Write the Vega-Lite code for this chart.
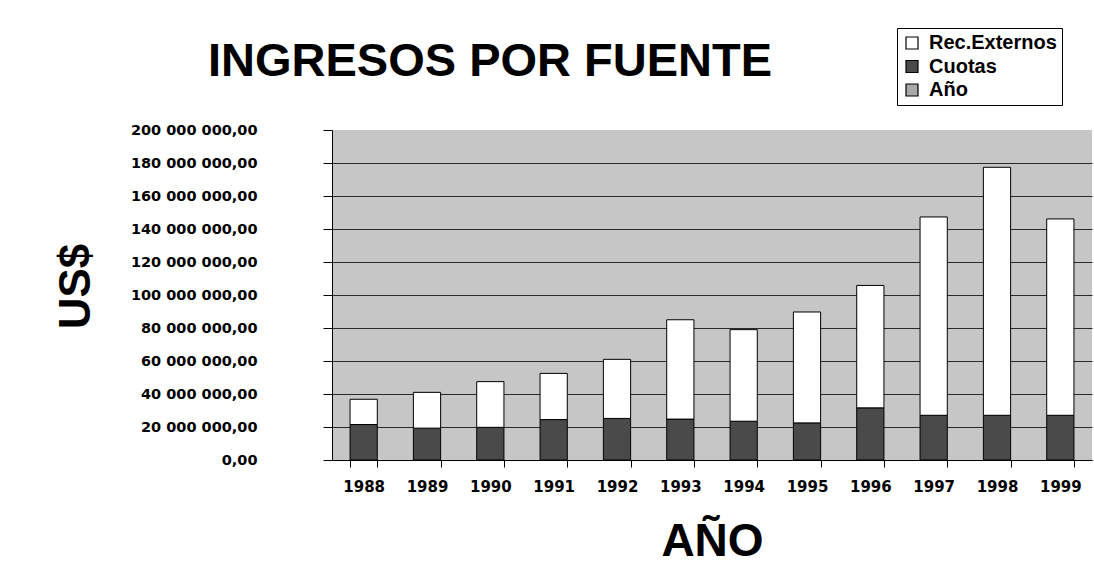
{
  "$schema": "https://vega.github.io/schema/vega-lite/v6.json",
  "width": 760,
  "height": 330,
  "autosize": {"type": "none"},
  "padding": {"left": 332, "top": 130, "right": 2, "bottom": 125},
  "background": "white",
  "title": {
    "text": "INGRESOS POR FUENTE",
    "font": "Liberation Sans",
    "fontSize": 47,
    "fontWeight": "bold",
    "color": "black",
    "anchor": "middle",
    "frame": "group",
    "dx": -222,
    "dy": 110,
    "offset": 52
  },
  "data": {
    "values": [
      {"anio": "1988", "fuente": "Cuotas", "monto": 21500000},
      {"anio": "1988", "fuente": "Rec.Externos", "monto": 15300000},
      {"anio": "1989", "fuente": "Cuotas", "monto": 19300000},
      {"anio": "1989", "fuente": "Rec.Externos", "monto": 21700000},
      {"anio": "1990", "fuente": "Cuotas", "monto": 19800000},
      {"anio": "1990", "fuente": "Rec.Externos", "monto": 27700000},
      {"anio": "1991", "fuente": "Cuotas", "monto": 24500000},
      {"anio": "1991", "fuente": "Rec.Externos", "monto": 28000000},
      {"anio": "1992", "fuente": "Cuotas", "monto": 25200000},
      {"anio": "1992", "fuente": "Rec.Externos", "monto": 35800000},
      {"anio": "1993", "fuente": "Cuotas", "monto": 24800000},
      {"anio": "1993", "fuente": "Rec.Externos", "monto": 60200000},
      {"anio": "1994", "fuente": "Cuotas", "monto": 23500000},
      {"anio": "1994", "fuente": "Rec.Externos", "monto": 55500000},
      {"anio": "1995", "fuente": "Cuotas", "monto": 22500000},
      {"anio": "1995", "fuente": "Rec.Externos", "monto": 67200000},
      {"anio": "1996", "fuente": "Cuotas", "monto": 31600000},
      {"anio": "1996", "fuente": "Rec.Externos", "monto": 74200000},
      {"anio": "1997", "fuente": "Cuotas", "monto": 27100000},
      {"anio": "1997", "fuente": "Rec.Externos", "monto": 120200000},
      {"anio": "1998", "fuente": "Cuotas", "monto": 27100000},
      {"anio": "1998", "fuente": "Rec.Externos", "monto": 150300000},
      {"anio": "1999", "fuente": "Cuotas", "monto": 27100000},
      {"anio": "1999", "fuente": "Rec.Externos", "monto": 119000000}
    ]
  },
  "mark": {"type": "bar", "stroke": "black", "strokeWidth": 1},
  "encoding": {
    "x": {
      "field": "anio",
      "type": "ordinal",
      "scale": {"paddingInner": 0.57, "paddingOuter": 0.285},
      "axis": {
        "title": "AÑO",
        "titleFont": "Liberation Sans",
        "titleFontSize": 46,
        "titleFontWeight": "bold",
        "titleColor": "black",
        "titleBaseline": "middle",
        "titleY": 81,
        "labelAngle": 0,
        "labelFont": "DejaVu Sans",
        "labelFontSize": 15,
        "labelFontWeight": "bold",
        "labelColor": "black",
        "labelPadding": 12,
        "labelBaseline": "top",
        "tickBand": "extent",
        "tickSize": 7,
        "tickColor": "black",
        "domainColor": "black",
        "grid": false
      }
    },
    "y": {
      "field": "monto",
      "type": "quantitative",
      "stack": "zero",
      "scale": {"domain": [0, 200000000], "nice": false},
      "axis": {
        "title": "US$",
        "titleFont": "Liberation Sans",
        "titleFontSize": 44,
        "titleFontWeight": "bold",
        "titleColor": "black",
        "titleAngle": 270,
        "titleBaseline": "middle",
        "titleAlign": "center",
        "titleX": -256,
        "titleY": 156,
        "values": [0, 20000000, 40000000, 60000000, 80000000, 100000000, 120000000, 140000000, 160000000, 180000000, 200000000],
        "format": ",.2f",
        "labelFont": "DejaVu Sans",
        "labelFontSize": 14.5,
        "labelFontWeight": "bold",
        "labelColor": "black",
        "labelPadding": 66,
        "tickSize": 9,
        "tickColor": "black",
        "domainColor": "black",
        "grid": true,
        "gridColor": {"condition": {"test": "datum.value >= 200000000", "value": "transparent"}, "value": "#2a2a2a"},
        "gridWidth": 1
      }
    },
    "color": {
      "field": "fuente",
      "type": "nominal",
      "scale": {"domain": ["Rec.Externos", "Cuotas", "Año"], "range": ["#ffffff", "#4a4a4a", "#a8a8a8"]},
      "legend": {
        "title": null,
        "orient": "none",
        "legendX": 565,
        "legendY": -102,
        "direction": "vertical",
        "strokeColor": "black",
        "fillColor": "white",
        "padding": 5,
        "symbolType": "square",
        "symbolSize": 144,
        "symbolStrokeColor": "black",
        "symbolStrokeWidth": 1.2,
        "labelFont": "Liberation Sans",
        "labelFontSize": 20,
        "labelFontWeight": "bold",
        "labelColor": "black",
        "labelLimit": 300,
        "labelOffset": 7,
        "rowPadding": 3.5
      }
    },
    "order": {"field": "fuente", "sort": "ascending"}
  },
  "config": {
    "locale": {
      "number": {"decimal": ",", "thousands": " ", "grouping": [3], "currency": ["", ""]}
    },
    "view": {"fill": "#c6c6c6", "stroke": null},
    "axis": {"domainWidth": 1, "tickWidth": 1}
  }
}
